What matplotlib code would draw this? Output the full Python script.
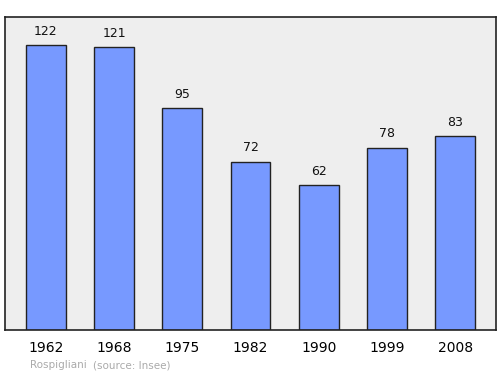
import matplotlib
matplotlib.use("Agg")
import matplotlib.pyplot as plt

years = ["1962", "1968", "1975", "1982", "1990", "1999", "2008"]
population = [122, 121, 95, 72, 62, 78, 83]

fig = plt.figure(figsize=(5, 3.74), dpi=100)
ax = fig.add_axes([0.01, (374-330)/374, 0.982, 313/374])
ax.set_facecolor("#eeeeee")
x = list(range(len(years)))
ax.bar(x, population, width=0.585, color="#7799ff", edgecolor="#222222", linewidth=1.0, zorder=2)
for xi, v in zip(x, population):
    ax.text(xi, v + 3.2, str(v), ha="center", va="bottom", fontsize=9, color="#111111")
ax.set_xlim(-0.6, 6.6)
ax.set_ylim(0, 134)
ax.set_yticks([])
ax.set_xticks(x)
ax.set_xticklabels(years, fontsize=10)
ax.tick_params(axis="x", length=0, pad=8)
for s in ax.spines.values():
    s.set_color("#222222")
    s.set_linewidth(1.2)
fig.text(30/500, 1-365/374, "Rospigliani", fontsize=7.5, color="#aaaaaa", va="center")
fig.text(93/500, 1-365/374, "(source: Insee)", fontsize=7.5, color="#aaaaaa", va="center")
fig.savefig("out.png", dpi=100)
